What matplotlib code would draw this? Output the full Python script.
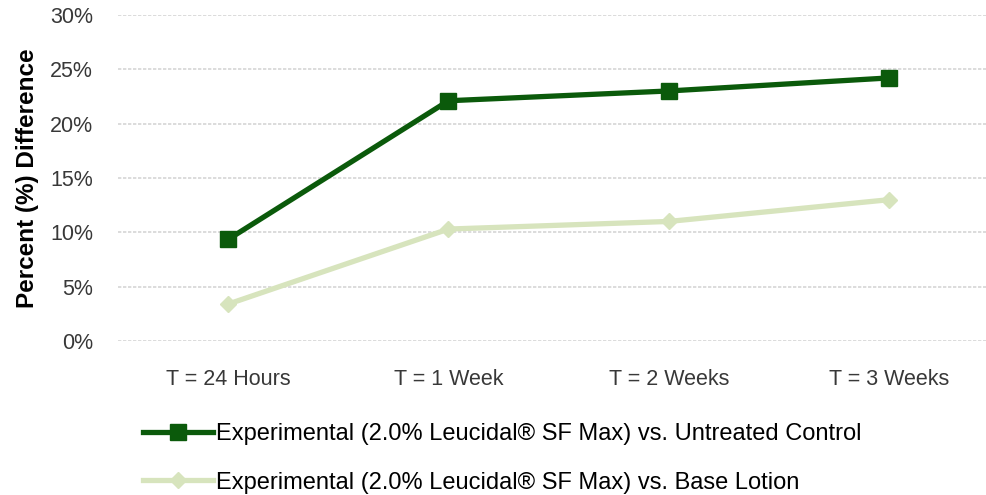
import matplotlib.pyplot as plt
from matplotlib.ticker import PercentFormatter, MultipleLocator

# dữ liệu
timepoints = ['T = 24 Hours', 'T = 1 Week', 'T = 2 Weeks', 'T = 3 Weeks']
vs_untreated = [9.35, 22.1, 23.0, 24.2]
vs_base_lotion = [3.4, 10.3, 11.0, 13.0]
series_names = [
    'Experimental (2.0% Leucidal\u00ae SF Max) vs. Untreated Control',
    'Experimental (2.0% Leucidal\u00ae SF Max) vs. Base Lotion',
]

plt.rcParams['font.family'] = ['Liberation Sans', 'DejaVu Sans']

dark = '#0b5a0b'
light = '#d7e4bd'

fig = plt.figure(figsize=(9.86, 4.95), dpi=100)
ax = fig.add_axes([0.1197, 0.311, 0.8803, 0.659])

x = range(len(timepoints))
ax.plot(x, vs_untreated, color=dark, lw=3.8, marker='s', ms=11,
        label=series_names[0], zorder=3)
ax.plot(x, vs_base_lotion, color=light, lw=3.8, marker='D', ms=8.5,
        label=series_names[1], zorder=3)

ax.set_xlim(-0.5, 3.44)
ax.set_ylim(0, 30)
ax.yaxis.set_major_locator(MultipleLocator(5))
ax.yaxis.set_major_formatter(PercentFormatter(decimals=0))
ax.set_xticks(list(x))
ax.set_xticklabels(timepoints)
ax.tick_params(axis='both', length=0, labelsize=15.5, colors='#383838')
ax.tick_params(axis='x', pad=20)
ax.tick_params(axis='y', pad=18)

ax.grid(axis='y', color='#d6d6d6', lw=1.2, linestyle=(0, (2, 1)))
ax.set_axisbelow(True)
for s in ax.spines.values():
    s.set_visible(False)

ax.set_ylabel('Percent (%) Difference', fontsize=17.5, fontweight='bold',
              labelpad=8)

fig.legend(loc='upper left', bbox_to_anchor=(0.135, 0.164),
           frameon=False, fontsize=17, handlelength=3.0, handletextpad=0.1,
           labelspacing=1.12, borderaxespad=0, labelcolor='#000000')

fig.savefig('out.png', dpi=100)
